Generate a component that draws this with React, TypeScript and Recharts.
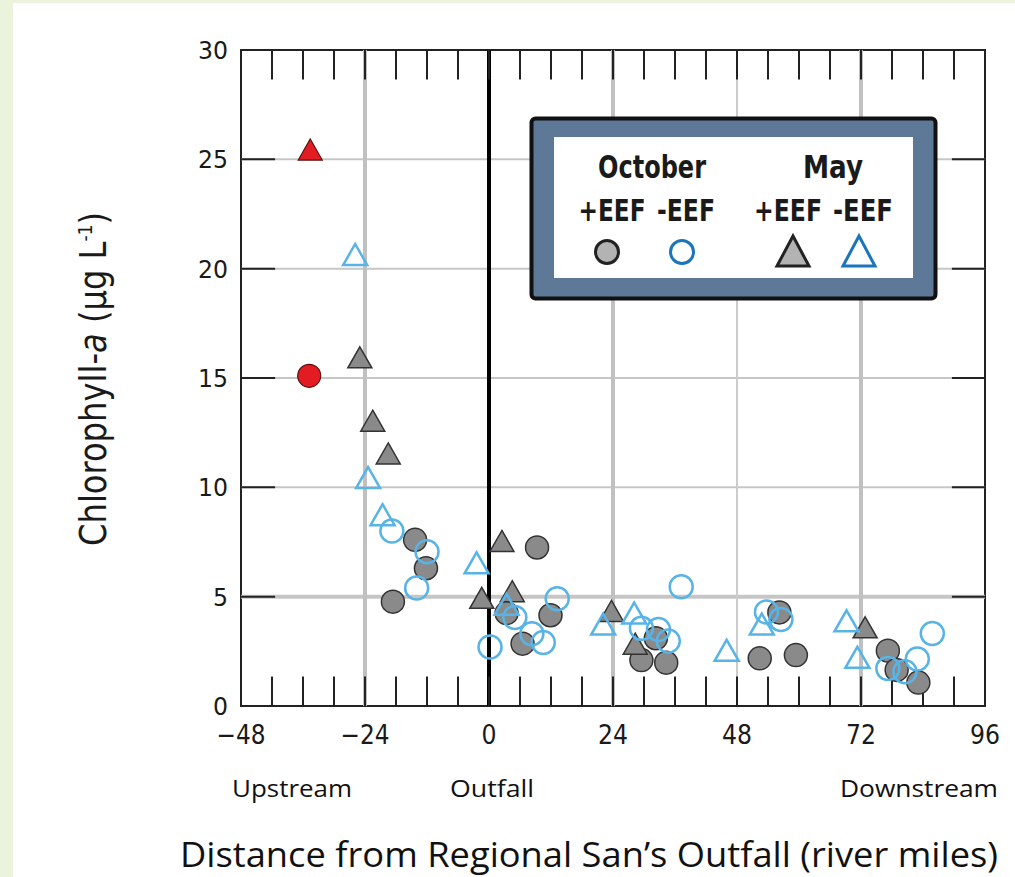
import React from 'react';
import { ScatterChart, Scatter, XAxis, YAxis, ReferenceLine, ReferenceArea } from 'recharts';

type Pt = { x: number; y: number };

// October, with EEF (gray filled circles)
const octoberPlus: Pt[] = [
  { x: -18.6, y: 4.77 }, { x: -14.3, y: 7.6 }, { x: -12.2, y: 6.3 }, { x: 3.4, y: 4.25 },
  { x: 6.5, y: 2.85 }, { x: 9.3, y: 7.25 }, { x: 11.9, y: 4.15 }, { x: 29.5, y: 2.1 },
  { x: 32.3, y: 3.1 }, { x: 34.3, y: 1.98 }, { x: 52.4, y: 2.18 }, { x: 56.2, y: 4.28 },
  { x: 59.4, y: 2.33 }, { x: 77.2, y: 2.53 }, { x: 78.9, y: 1.65 }, { x: 83.1, y: 1.07 },
];

// October, without EEF (blue open circles)
const octoberMinus: Pt[] = [
  { x: -18.8, y: 8.0 }, { x: -12.0, y: 7.05 }, { x: -14.0, y: 5.4 }, { x: 0.2, y: 2.7 },
  { x: 5.0, y: 4.05 }, { x: 8.3, y: 3.3 }, { x: 10.5, y: 2.9 }, { x: 13.2, y: 4.9 },
  { x: 29.5, y: 3.55 }, { x: 32.8, y: 3.5 }, { x: 34.7, y: 2.97 }, { x: 37.2, y: 5.45 },
  { x: 53.7, y: 4.3 }, { x: 56.5, y: 3.96 }, { x: 77.2, y: 1.72 }, { x: 80.5, y: 1.57 },
  { x: 82.9, y: 2.15 }, { x: 85.8, y: 3.32 },
];

// May, with EEF (gray filled triangles)
const mayPlus: Pt[] = [
  { x: -25.0, y: 15.9 }, { x: -22.5, y: 13.0 }, { x: -19.5, y: 11.5 }, { x: -1.4, y: 4.9 },
  { x: 2.5, y: 7.5 }, { x: 4.5, y: 5.2 }, { x: 23.7, y: 4.3 }, { x: 28.3, y: 2.8 },
  { x: 72.8, y: 3.55 },
];

// May, without EEF (blue open triangles)
const mayMinus: Pt[] = [
  { x: -25.9, y: 20.6 }, { x: -23.4, y: 10.4 }, { x: -20.6, y: 8.7 }, { x: -2.4, y: 6.5 },
  { x: 3.4, y: 4.6 }, { x: 22.1, y: 3.7 }, { x: 28.1, y: 4.2 }, { x: 46.0, y: 2.5 },
  { x: 52.8, y: 3.7 }, { x: 69.2, y: 3.85 }, { x: 71.3, y: 2.18 },
];

// highlighted upstream samples (red)
const upstreamOctober: Pt[] = [{ x: -34.8, y: 15.1 }];
const upstreamMay: Pt[] = [{ x: -34.6, y: 25.4 }];

const xTicks = [-48, -24, 0, 24, 48, 72, 96];
const yTicks = [0, 5, 10, 15, 20, 25, 30];
const minorXTicks = [-42, -36, -30, -24, -18, -12, -6, 0, 6, 12, 18, 24, 30, 36, 42, 48, 54, 60, 66, 72, 78, 84, 90];
const gridY = [5, 10, 15, 20, 25];

const NARROW = '"DejaVu Sans Condensed", "Liberation Sans Narrow", sans-serif';
const SANS = '"Open Sans", "Noto Sans", sans-serif';
const GRAY = '#8a8a8a';
const BLUE = '#58b4e6';

const Dot = ({ cx, cy, fill, stroke, sw }: any) => (
  <circle cx={cx} cy={cy} r={11.5} fill={fill} stroke={stroke} strokeWidth={sw} />
);

const Tri = ({ cx, cy, fill, stroke, sw }: any) => {
  const w = 12;
  const h = 21;
  const pts = `${cx},${cy - h * 0.55} ${cx + w},${cy + h * 0.45} ${cx - w},${cy + h * 0.45}`;
  return <polygon points={pts} fill={fill} stroke={stroke} strokeWidth={sw} strokeLinejoin="miter" />;
};

const fmtX = (v: number) => (v < 0 ? `\u2212${-v}` : `${v}`);

// tick labels squeezed to the condensed look of the original
const XTick = (p: any) => {
  const label = fmtX(p.payload.value);
  const w = label.length === 1 ? 15 : label.length === 2 ? 30 : 49;
  return (
    <text x={p.x} y={p.y} dy="0.72em" textAnchor="middle" fontFamily={NARROW} fontSize={26} fill="#1a1a1a"
      textLength={w} lengthAdjust="spacingAndGlyphs">
      {label}
    </text>
  );
};

const YTick = (p: any) => {
  const label = `${p.payload.value}`;
  const w = label.length === 1 ? 15 : 30;
  return (
    <text x={p.x} y={p.y} dy="0.36em" textAnchor="end" fontFamily={NARROW} fontSize={25} fill="#1a1a1a"
      textLength={w} lengthAdjust="spacingAndGlyphs">
      {label}
    </text>
  );
};

export default function App() {
  return (
    <div style={{ position: 'absolute', left: 0, top: 0, width: 1015, height: 877, background: '#ebf3dc' }}>
      <div style={{ position: 'absolute', left: 13, top: 3, right: 0, bottom: 0, background: '#fff' }} />
      <div style={{ position: 'absolute', left: 0, top: 0 }}>
        <ScatterChart width={1015} height={877} margin={{ top: 50, right: 30, bottom: 131, left: 181 }}>
          {gridY.map((v) => (
            <ReferenceLine key={`gy${v}`} y={v} stroke="#c6c6c6" strokeWidth={v === 5 ? 4 : 2} />
          ))}
          <ReferenceLine x={-24} stroke="#c0c0c0" strokeWidth={4} />
          <ReferenceLine x={24} stroke="#c0c0c0" strokeWidth={4} />
          <ReferenceLine x={48} stroke="#cccccc" strokeWidth={2} />
          <ReferenceLine x={72} stroke="#c0c0c0" strokeWidth={4} />
          <ReferenceLine x={0} stroke="#000" strokeWidth={4} />
          {minorXTicks.map((v) => (
            <ReferenceLine key={`tt${v}`} segment={[{ x: v, y: 30 }, { x: v, y: 28.65 }]} stroke="#222" strokeWidth={2} />
          ))}
          {minorXTicks.map((v) => (
            <ReferenceLine key={`tb${v}`} segment={[{ x: v, y: 0 }, { x: v, y: 1.35 }]} stroke="#222" strokeWidth={2} />
          ))}
          {gridY.map((v) => (
            <ReferenceLine key={`tl${v}`} segment={[{ x: -48, y: v }, { x: -41.4, y: v }]} stroke="#222" strokeWidth={2} />
          ))}
          {gridY.map((v) => (
            <ReferenceLine key={`tr${v}`} segment={[{ x: 96, y: v }, { x: 89.6, y: v }]} stroke="#222" strokeWidth={2} />
          ))}
          <ReferenceArea x1={-48} x2={96} y1={0} y2={30} fill="none" fillOpacity={0} stroke="#222" strokeWidth={2} />
          <XAxis
            type="number"
            dataKey="x"
            domain={[-48, 96]}
            ticks={xTicks}
            height={40}
            axisLine={false}
            tickLine={false}
            tickSize={0}
            tickMargin={19}
            tick={<XTick />}
            allowDataOverflow
          />
          <YAxis
            type="number"
            dataKey="y"
            domain={[0, 30]}
            ticks={yTicks}
            width={60}
            axisLine={false}
            tickLine={false}
            tickSize={0}
            tickMargin={13}
            tick={<YTick />}
            allowDataOverflow
          />
          <Scatter
            data={octoberPlus}
            isAnimationActive={false}
            shape={(p: any) => <Dot cx={p.cx} cy={p.cy} fill={GRAY} stroke="#333" sw={1.5} />}
          />
          <Scatter
            data={mayPlus}
            isAnimationActive={false}
            shape={(p: any) => <Tri cx={p.cx} cy={p.cy} fill={GRAY} stroke="#333" sw={1.5} />}
          />
          <Scatter
            data={octoberMinus}
            isAnimationActive={false}
            shape={(p: any) => <Dot cx={p.cx} cy={p.cy} fill="none" stroke={BLUE} sw={2.5} />}
          />
          <Scatter
            data={mayMinus}
            isAnimationActive={false}
            shape={(p: any) => <Tri cx={p.cx} cy={p.cy} fill="none" stroke={BLUE} sw={2.5} />}
          />
          <Scatter
            data={upstreamOctober}
            isAnimationActive={false}
            shape={(p: any) => <Dot cx={p.cx} cy={p.cy} fill="#e31b23" stroke="#5a1010" sw={1.2} />}
          />
          <Scatter
            data={upstreamMay}
            isAnimationActive={false}
            shape={(p: any) => <Tri cx={p.cx} cy={p.cy} fill="#e31b23" stroke="#5a1010" sw={1.2} />}
          />
        </ScatterChart>
      </div>
      <svg width={1015} height={877} style={{ position: 'absolute', left: 0, top: 0, pointerEvents: 'none' }}>
        {/* y axis title */}
        <text
          transform="translate(106,379) rotate(-90)"
          textAnchor="middle"
          fontFamily={NARROW}
          fontSize={38}
          fill="#1a1a1a"
          textLength={334}
          lengthAdjust="spacingAndGlyphs"
        >
          Chlorophyll-<tspan fontStyle="italic">a</tspan> (µg L<tspan dy={-14} fontSize={20}>-1</tspan><tspan dy={14}>)</tspan>
        </text>

        {/* legend */}
        <rect x={531.5} y={118.5} width={404} height={180} rx={4} fill="#5e7898" stroke="#111" strokeWidth={4} />
        <rect x={554} y={137} width={359} height={141} fill="#fff" />
        <g fontFamily={NARROW} fontWeight="bold" fill="#1a1a1a" textAnchor="middle">
          <text x={652} y={178} fontSize={32} textLength={108} lengthAdjust="spacingAndGlyphs">October</text>
          <text x={833} y={178} fontSize={32} textLength={60} lengthAdjust="spacingAndGlyphs">May</text>
          <text x={612} y={221} fontSize={31} textLength={67} lengthAdjust="spacingAndGlyphs">+EEF</text>
          <text x={686} y={221} fontSize={31} textLength={58} lengthAdjust="spacingAndGlyphs">-EEF</text>
          <text x={788} y={221} fontSize={31} textLength={68} lengthAdjust="spacingAndGlyphs">+EEF</text>
          <text x={863} y={221} fontSize={31} textLength={60} lengthAdjust="spacingAndGlyphs">-EEF</text>
        </g>
        <circle cx={607} cy={252} r={11.5} fill="#b3b3b3" stroke="#222" strokeWidth={3} />
        <circle cx={682} cy={252} r={11.5} fill="none" stroke="#1b75bb" strokeWidth={3} />
        <polygon points="793,236 809,266 777,266" fill="#b3b3b3" stroke="#222" strokeWidth={3} />
        <polygon points="859,236 875,266 843,266" fill="none" stroke="#1b75bb" strokeWidth={3} />

        {/* x axis annotations */}
        <g fontFamily={SANS} fill="#111" textAnchor="middle">
          <text x={292} y={797} fontSize={24} textLength={120} lengthAdjust="spacingAndGlyphs">Upstream</text>
          <text x={492} y={797} fontSize={24} textLength={84} lengthAdjust="spacingAndGlyphs">Outfall</text>
          <text x={919} y={797} fontSize={24} textLength={158} lengthAdjust="spacingAndGlyphs">Downstream</text>
          <text x={589} y={867} fontSize={34} textLength={818} lengthAdjust="spacingAndGlyphs">
            Distance from Regional San’s Outfall (river miles)
          </text>
        </g>
      </svg>
    </div>
  );
}
